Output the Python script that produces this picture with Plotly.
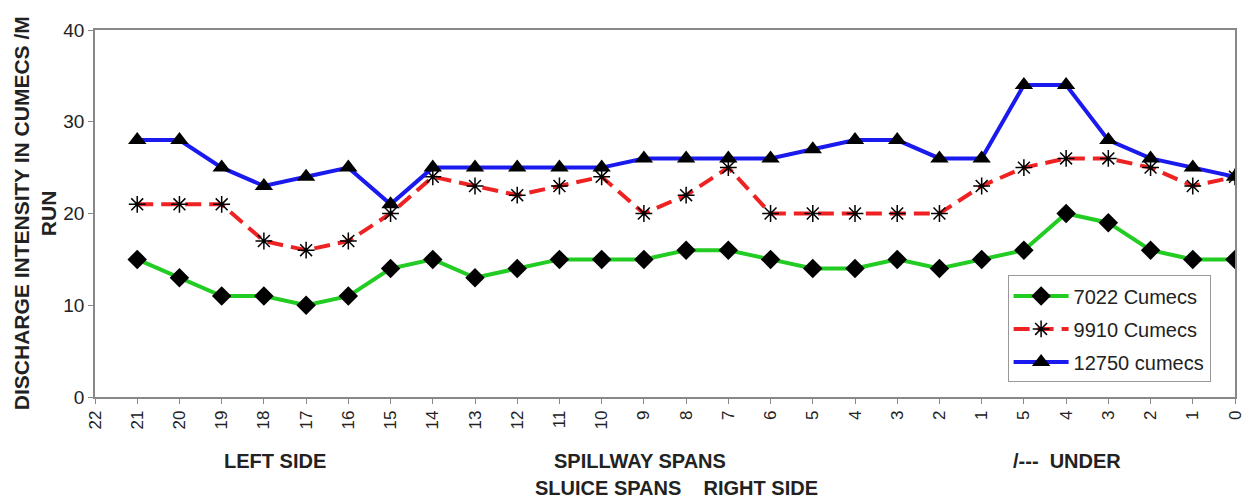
import plotly.graph_objects as go

# Tick labels along the bottom (spans), left to right
x_labels = ["22", "21", "20", "19", "18", "17", "16", "15", "14", "13", "12", "11",
            "10", "9", "8", "7", "6", "5", "4", "3", "2", "1",
            "5", "4", "3", "2", "1", "0"]

# Series values for spans 21 ... 0 (no value at span 22)
q7022 = [15, 13, 11, 11, 10, 11, 14, 15, 13, 14, 15, 15, 15, 16, 16, 15, 14, 14, 15, 14, 15,
         16, 20, 19, 16, 15, 15]
q9910 = [21, 21, 21, 17, 16, 17, 20, 24, 23, 22, 23, 24, 20, 22, 25, 20, 20, 20, 20, 20, 23,
         25, 26, 26, 25, 23, 24]
q12750 = [28, 28, 25, 23, 24, 25, 21, 25, 25, 25, 25, 25, 26, 26, 26, 26, 27, 28, 28, 26, 26,
          34, 34, 28, 26, 25, 24]

series_names = ["7022 Cumecs", "9910 Cumecs", "12750 cumecs"]
y_ticks = [0, 10, 20, 30, 40]

positions = list(range(len(x_labels)))
xs = positions[1:]

FONT = "Liberation Sans, Arial, sans-serif"
TXT = "#222222"

fig = go.Figure()
fig.add_trace(go.Scatter(
    x=xs, y=q7022, name=series_names[0], mode="lines+markers", legendgroup="a",
    line=dict(color="#22cc22", width=4),
    marker=dict(symbol="diamond", size=15, color="black"),
))
fig.add_trace(go.Scatter(
    x=xs, y=q9910, name=series_names[1], mode="lines+markers", legendgroup="b",
    line=dict(color="#ee2222", width=4, dash="16px,8px"),
    marker=dict(symbol="asterisk-open", size=14, color="black",
                line=dict(color="black", width=1.5)),
))
fig.add_trace(go.Scatter(
    x=xs, y=q12750, name=series_names[2], mode="lines+markers", legendgroup="c",
    line=dict(color="#1a1aee", width=4),
    marker=dict(symbol="triangle-up", size=16, color="black"),
))

# page has an 8px body margin: figure is placed at (8, 8)
fig.update_layout(
    width=1249, height=494,
    margin=dict(l=87, r=19, t=12, b=105),
    paper_bgcolor="white", plot_bgcolor="white",
    font=dict(family=FONT, color=TXT, size=16),
    showlegend=True,
    legend=dict(
        x=(1010 - 95) / 1143, y=(397 - 382) / 377,
        xanchor="left", yanchor="bottom",
        bgcolor="white", bordercolor="#999999", borderwidth=1,
        font=dict(family=FONT, size=20, color=TXT),
        tracegroupgap=4, itemwidth=55,
    ),
    xaxis=dict(
        range=[0, len(x_labels) - 1],
        tickmode="array", tickvals=positions, ticktext=x_labels,
        tickangle=-90, tickfont=dict(size=17, color=TXT),
        ticks="outside", ticklen=5, tickcolor="#888888",
        showline=True, linecolor="#888888", linewidth=1.5, mirror=True,
        showgrid=False, zeroline=False,
    ),
    yaxis=dict(
        range=[0, 40], tickmode="array", tickvals=y_ticks,
        tickfont=dict(size=19, color=TXT),
        ticks="outside", ticklen=5, tickcolor="#888888",
        showline=True, linecolor="#888888", linewidth=1.5, mirror=True,
        showgrid=False, zeroline=False,
    ),
)

def px_x(px):
    return (px - 95) / 1143

def px_y(py):
    return (397 - py) / 377

# Y-axis title (two lines)
fig.add_annotation(
    text="<b>DISCHARGE INTENSITY IN CUMECS /M</b>", textangle=-90,
    xref="paper", yref="paper", x=px_x(21), y=px_y(208),
    xanchor="center", yanchor="middle", showarrow=False,
    font=dict(family=FONT, size=21, color=TXT),
)
fig.add_annotation(
    text="<b>RUN</b>", textangle=-90,
    xref="paper", yref="paper", x=px_x(48), y=px_y(208),
    xanchor="center", yanchor="middle", showarrow=False,
    font=dict(family=FONT, size=21, color=TXT),
)

# Bottom group labels
bottom_labels = [
    ("LEFT SIDE", 275, 463),
    ("SPILLWAY SPANS", 641, 463),
    ("/---  UNDER", 1070, 463),
    ("SLUICE SPANS    RIGHT SIDE", 678, 490),
]
for txt, bx, by in bottom_labels:
    fig.add_annotation(
        text="<b>" + txt.replace("  ", "&nbsp;&nbsp;") + "</b>",
        xref="paper", yref="paper", x=px_x(bx), y=px_y(by),
        xanchor="center", yanchor="middle", showarrow=False,
        font=dict(family=FONT, size=20, color=TXT),
    )

fig.write_html("out.html")
